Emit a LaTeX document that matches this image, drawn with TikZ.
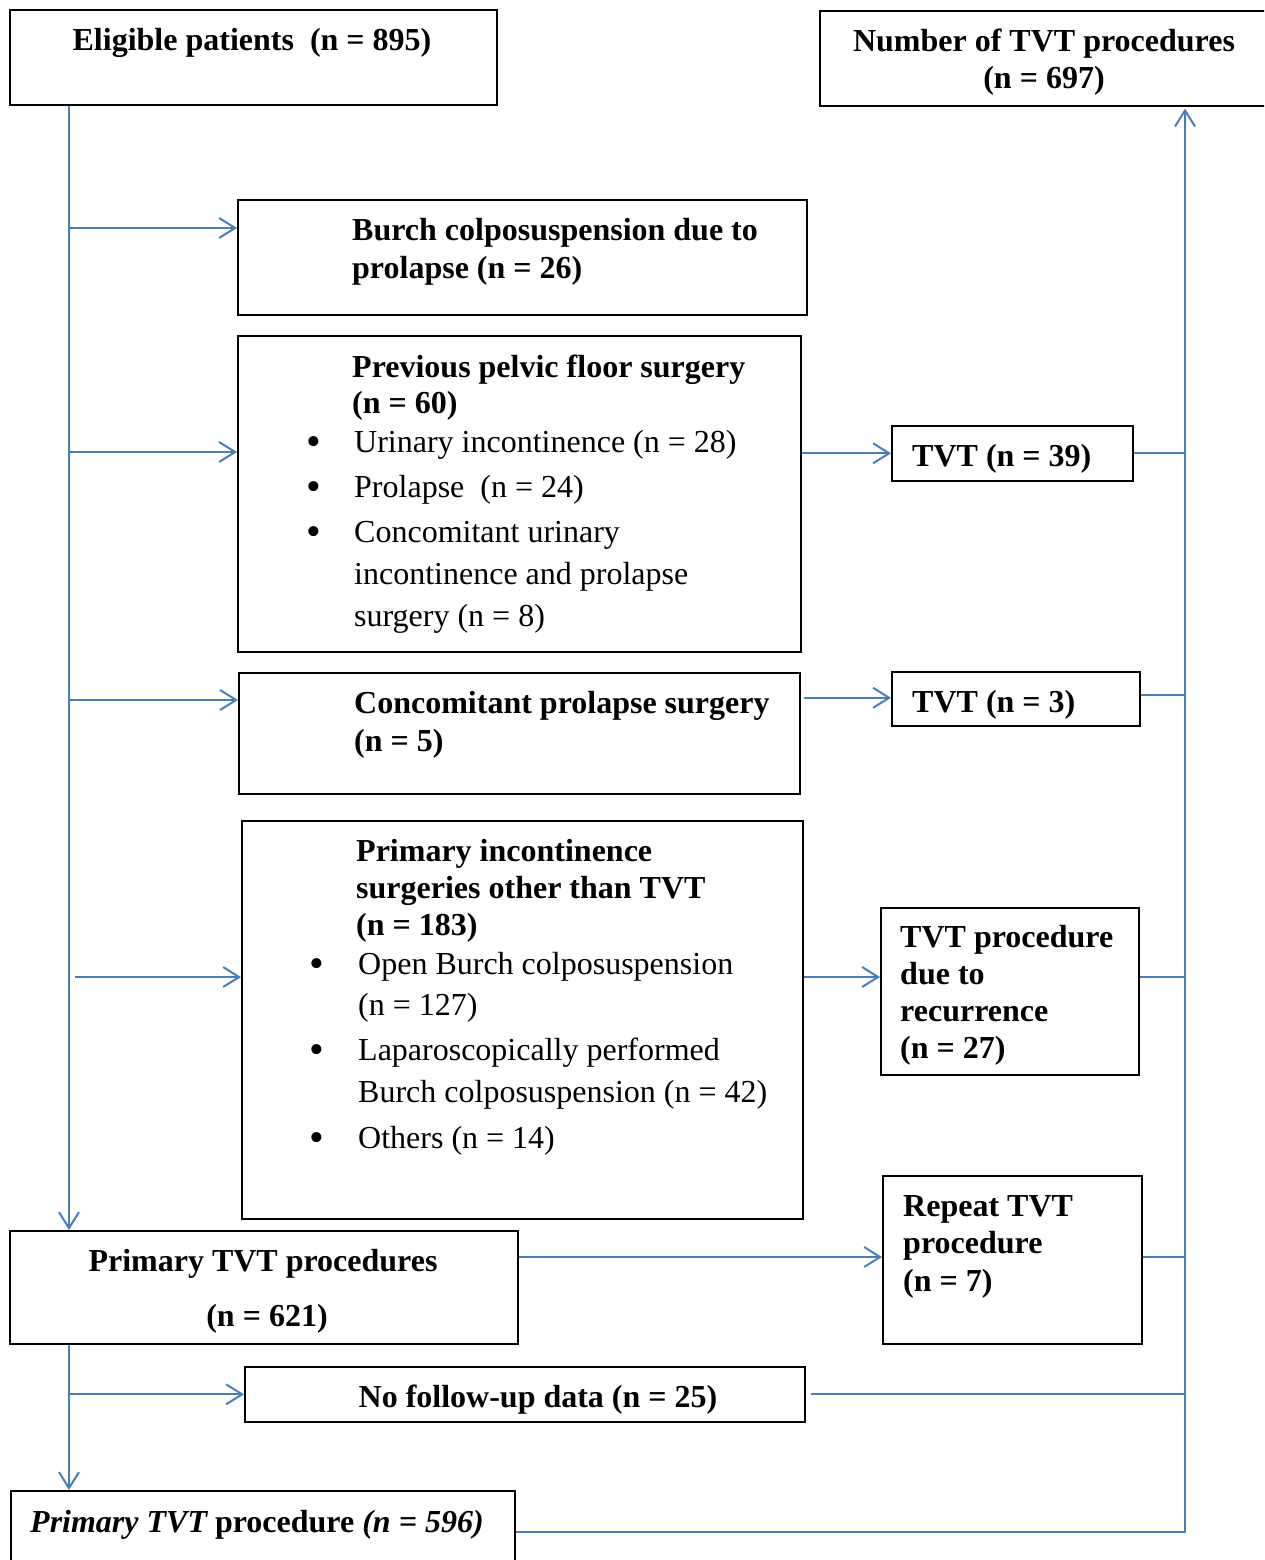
\documentclass[tikz,border=0pt]{standalone}
\usepackage{fontspec}
\setmainfont{Liberation Serif}
\usetikzlibrary{arrows.meta,calc}
\definecolor{tvtblue}{RGB}{74,126,187}
\tikzset{
  box/.style={draw=black, line width=1.6pt, anchor=north west, inner sep=0pt},
  conn/.style={draw=tvtblue, line width=2pt},
  arr/.style={-{Straight Barb[length=16pt,width=20pt]}},
  lbl/.style={anchor=base west, inner sep=0pt, font=\fontsize{32}{37}\selectfont\bfseries},
  lblc/.style={anchor=base, inner sep=0pt, font=\fontsize{32}{37}\selectfont\bfseries},
  plain/.style={anchor=base west, inner sep=0pt, font=\fontsize{32}{37}\selectfont},
  bul/.style={anchor=base west, inner sep=0pt, font=\fontsize{42}{42}\selectfont},
}
\begin{document}
\begin{tikzpicture}[x=1pt,y=-1pt]
\useasboundingbox (0,0) rectangle (1264,1560);
\fill[white] (0,0) rectangle (1264,1560);
\clip (0,0) rectangle (1264,1560);

% boxes
\node[box, minimum width=487pt, minimum height=95pt] (elig) at (9,9) {};
\node[box, minimum width=500pt, minimum height=95pt] (num) at (819,10) {};
\node[box, minimum width=569pt, minimum height=115pt] (burch) at (237,199) {};
\node[box, minimum width=563pt, minimum height=316pt] (prev) at (237,335) {};
\node[box, minimum width=561pt, minimum height=121pt] (conc) at (238,672) {};
\node[box, minimum width=561pt, minimum height=398pt] (prim) at (241,820) {};
\node[box, minimum width=241pt, minimum height=55pt] (tvt39) at (891,425) {};
\node[box, minimum width=248pt, minimum height=54pt] (tvt3) at (891,671) {};
\node[box, minimum width=258pt, minimum height=167pt] (recur) at (880,907) {};
\node[box, minimum width=259pt, minimum height=168pt] (repeat) at (882,1175) {};
\node[box, minimum width=508pt, minimum height=113pt] (ptvt) at (9,1230) {};
\node[box, minimum width=560pt, minimum height=55pt] (nofu) at (244,1366) {};
\node[box, minimum width=504pt, minimum height=120pt] (final) at (10,1490) {};

% texts
\node[lblc] (eligT) at (252,51) {Eligible patients\ \ (n = 895)};
\node[lblc] (numT1) at (1044,52) {Number of TVT procedures};
\node[lblc] (numT2) at (1044,89) {(n = 697)};

\node[lbl] (burchT1) at (352,240) {Burch colposuspension due to};
\node[lbl] (burchT2) at (352,278) {prolapse (n = 26)};

\node[lbl] (prevT1) at (352,377) {Previous pelvic floor surgery};
\node[lbl] (prevT2) at (352,413) {(n = 60)};
\node[bul] (prevB1) at (306,455) {•};
\node[plain] (prevL1) at (354,452) {Urinary incontinence (n = 28)};
\node[bul] (prevB2) at (306,500) {•};
\node[plain] (prevL2) at (354,497) {Prolapse\ \ (n = 24)};
\node[bul] (prevB3) at (306,545) {•};
\node[plain] (prevL3) at (354,542) {Concomitant urinary};
\node[plain] (prevL4) at (354,584) {incontinence and prolapse};
\node[plain] (prevL5) at (354,626) {surgery (n = 8)};

\node[lbl] (concT1) at (354,713) {Concomitant prolapse surgery};
\node[lbl] (concT2) at (354,751) {(n = 5)};

\node[lbl] (primT1) at (356,861) {Primary incontinence};
\node[lbl] (primT2) at (356,898) {surgeries other than TVT};
\node[lbl] (primT3) at (356,935) {(n = 183)};
\node[bul] (primB1) at (309,977) {•};
\node[plain] (primL1) at (358,974) {Open Burch colposuspension};
\node[plain] (primL2) at (358,1015) {(n = 127)};
\node[bul] (primB2) at (309,1063) {•};
\node[plain] (primL3) at (358,1060) {Laparoscopically performed};
\node[plain] (primL4) at (358,1102) {Burch colposuspension (n = 42)};
\node[bul] (primB3) at (309,1151) {•};
\node[plain] (primL5) at (358,1148) {Others (n = 14)};

\node[lbl] (tvt39T) at (912,466) {TVT (n = 39)};
\node[lbl] (tvt3T) at (912,712) {TVT (n = 3)};

\node[lbl] (recurT1) at (900,947) {TVT procedure};
\node[lbl] (recurT2) at (900,984) {due to};
\node[lbl] (recurT3) at (900,1021) {recurrence};
\node[lbl] (recurT4) at (900,1058) {(n = 27)};

\node[lbl] (repeatT1) at (903,1216) {Repeat TVT};
\node[lbl] (repeatT2) at (903,1253) {procedure};
\node[lbl] (repeatT3) at (903,1291) {(n = 7)};

\node[lblc] (ptvtT1) at (263,1271) {Primary TVT procedures};
\node[lblc] (ptvtT2) at (267,1326) {(n = 621)};

\node[lblc] (nofuT) at (538,1407) {No follow-up data (n = 25)};

\node[lbl] (finalT) at (30,1532) {\itshape Primary TVT \upshape procedure \itshape (n = 596)};

% left trunk
\coordinate (lt) at (69,0);
\coordinate (b1) at (69,228);
\coordinate (b2) at (69,452);
\coordinate (b3) at (69,700);
\coordinate (b4) at (75,977);
\draw[conn,arr] (lt |- elig.south) -- (lt |- ptvt.north);
\draw[conn,arr] (b1) -- (b1 -| burch.west);
\draw[conn,arr] (b2) -- (b2 -| prev.west);
\draw[conn,arr] (b3) -- (b3 -| conc.west);
\draw[conn,arr] (b4) -- (b4 -| prim.west);

\draw[conn,arr] (lt |- ptvt.south) -- (lt |- final.north);
\draw[conn,arr] (lt |- nofu.west) -- (nofu.west);

% right side
\coordinate (rt) at (1185,0);
\coordinate (fe) at ($(final.north east)+(0,42)$);
\draw[conn,arr] (fe) -- (fe -| rt) -- ($(rt |- num.south)+(0,2)$);

\draw[conn,arr] (prev.east |- tvt39.west) -- (tvt39.west);
\draw[conn] (tvt39.east) -- (tvt39.east -| rt);

\coordinate (c3) at ($(conc.east |- tvt3.west)+(3,-1)$);
\draw[conn,arr] (c3) -- (c3 -| tvt3.west);
\draw[conn] ($(tvt3.east)+(0,-4)$) -- ($(tvt3.east -| rt)+(0,-4)$);

\coordinate (c4) at (prim.east |- b4);
\draw[conn,arr] (c4) -- (c4 -| recur.west);
\draw[conn] (recur.east |- b4) -- (rt |- b4);

\coordinate (c5) at ($(ptvt.north east)+(0,27)$);
\draw[conn,arr] (c5) -- (c5 -| repeat.west);
\draw[conn] (repeat.east |- c5) -- (rt |- c5);

\draw[conn] ($(nofu.east)+(5,0)$) -- (nofu.east -| rt);
\end{tikzpicture}
\end{document}
